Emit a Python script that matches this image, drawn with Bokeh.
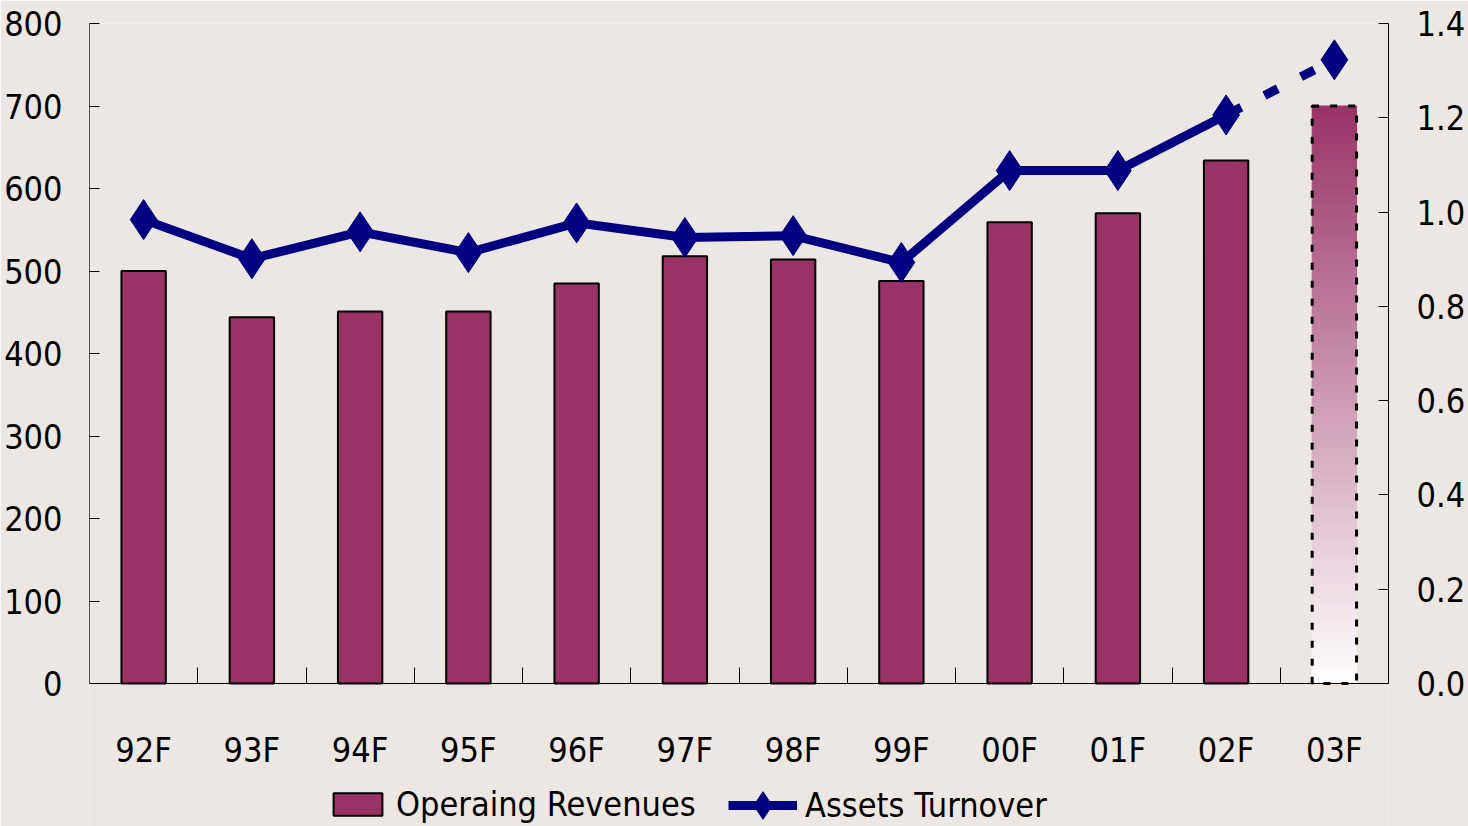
import numpy as np
from bokeh.plotting import figure
from bokeh.models import (Range1d, LinearAxis, FixedTicker, Legend, LegendItem,
                          ColumnDataSource)
from bokeh.embed import file_html
from bokeh.resources import INLINE

# ---------------- data ----------------
years = ["92F", "93F", "94F", "95F", "96F", "97F", "98F", "99F", "00F", "01F", "02F", "03F"]
revenues = [500, 444, 451, 451, 485, 518, 514, 488, 559, 570, 634, 700]
turnover = [0.984, 0.901, 0.958, 0.914, 0.977, 0.946, 0.950, 0.893, 1.088, 1.088, 1.206, 1.323]
left_ticks = [0, 100, 200, 300, 400, 500, 600, 700, 800]
right_ticks = [0.0, 0.2, 0.4, 0.6, 0.8, 1.0, 1.2, 1.4]
n_actual = 11  # 92F..02F actual, 03F forecast

FONT = "DejaVu Sans Condensed"
FS = "34px"
BG = "#ece7e3"
BAR = "#993366"
NAVY = "#000080"

# layout geometry (pixels)
W, H = 1468, 826
TOP, LEFT, RIGHT = 23, 89, 78
AXIS_H = 660           # height of the value area (0..max)
BELOW = H - TOP - AXIS_H  # room under the zero line for labels + legend
LMAX, RMAX = 800, 1.4
lmin = -LMAX * BELOW / AXIS_H
rmin = -RMAX * BELOW / AXIS_H

xc = [i + 0.5 for i in range(len(years))]

p = figure(width=W, height=H, output_backend="svg", toolbar_location=None,
           x_range=Range1d(0, len(years)), y_range=Range1d(lmin, LMAX),
           min_border_left=LEFT, min_border_right=RIGHT, min_border_top=TOP,
           min_border_bottom=0, x_axis_location=None, y_axis_location=None)
p.background_fill_color = BG
p.border_fill_color = BG
p.outline_line_color = None
p.grid.visible = False
p.extra_y_ranges = {"r": Range1d(rmin, RMAX)}

# actual bars
src_bar = ColumnDataSource(dict(x=xc[:n_actual], top=revenues[:n_actual]))
bars = p.vbar(x="x", top="top", width=0.41, bottom=0, source=src_bar,
              fill_color=BAR, line_color="black", line_width=2)

# forecast bar: gradient built from thin slices
N = 140
edges = np.linspace(0, revenues[-1], N + 1)
c0 = np.array([0x99, 0x33, 0x66], dtype=float)
c1 = np.array([0xff, 0xff, 0xff], dtype=float)
cols = []
for k in range(N):
    f = 1.0 - (k + 0.5) / N  # 0 at top -> 1 at bottom
    c = c0 + (c1 - c0) * f
    cols.append("#%02x%02x%02x" % tuple(int(round(v)) for v in c))
xf = xc[-1]
p.quad(left=[xf - 0.205] * N, right=[xf + 0.205] * N, bottom=edges[:-1], top=edges[1:],
       fill_color=cols, line_color=cols, line_width=1)
p.quad(left=[xf - 0.205], right=[xf + 0.205], bottom=[0], top=[revenues[-1]],
       fill_alpha=0, line_color="black", line_width=3, line_dash="7 11")

# turnover line
ln = p.line(xc[:n_actual], turnover[:n_actual], y_range_name="r",
            line_color=NAVY, line_width=9, line_join="miter")
p.line(xc[n_actual - 1:], turnover[n_actual - 1:], y_range_name="r",
       line_color=NAVY, line_width=9, line_dash="15 26", line_dash_offset=-2)
sc = p.scatter(xc, turnover, y_range_name="r", marker="diamond", size=40,
               fill_color=NAVY, line_color=NAVY)

# x axis, fixed at the zero line
xa = LinearAxis(fixed_location=0,
                ticker=FixedTicker(ticks=xc, minor_ticks=list(range(len(years) + 1))))
xa.major_label_overrides = {x: y for x, y in zip(xc, years)}
xa.major_tick_in = 0
xa.major_tick_out = 0
xa.minor_tick_in = 16
xa.minor_tick_out = 0
xa.minor_tick_line_color = "black"
xa.axis_line_color = "black"
xa.major_label_standoff = 46
p.add_layout(xa, "below")

la = LinearAxis(ticker=FixedTicker(ticks=left_ticks), bounds=(0, LMAX))
la.major_tick_in = 10
la.major_tick_out = 0
la.minor_tick_line_color = None
la.major_label_standoff = 27
la.axis_line_color = "#555555"
p.add_layout(la, "left")

ra = LinearAxis(y_range_name="r", ticker=FixedTicker(ticks=right_ticks), bounds=(0, RMAX))
ra.major_label_overrides = {v: "%.1f" % v for v in right_ticks}
ra.major_tick_in = 10
ra.major_tick_out = 0
ra.minor_tick_line_color = None
ra.major_label_standoff = 28
ra.axis_line_color = "black"
p.add_layout(ra, "right")

for ax in [xa, la, ra]:
    ax.major_label_text_font = FONT
    ax.major_label_text_font_size = FS
    ax.major_label_text_color = "black"
    ax.major_tick_line_color = "black"

common = dict(orientation="horizontal", padding=0, margin=0, label_standoff=8,
              border_line_color=None, background_fill_alpha=0,
              label_text_font=FONT, label_text_font_size=FS, label_text_color="black")
legend1 = Legend(items=[LegendItem(label="Operaing Revenues", renderers=[bars])],
                 location=(238, 2), glyph_width=61, glyph_height=28, **common)
legend2 = Legend(items=[LegendItem(label="Assets Turnover", renderers=[ln, sc])],
                 location=(639, -14), glyph_width=69, glyph_height=70, **common)
p.add_layout(legend1, "center")
p.add_layout(legend2, "center")

open("out.html", "w").write(file_html(p, INLINE))
